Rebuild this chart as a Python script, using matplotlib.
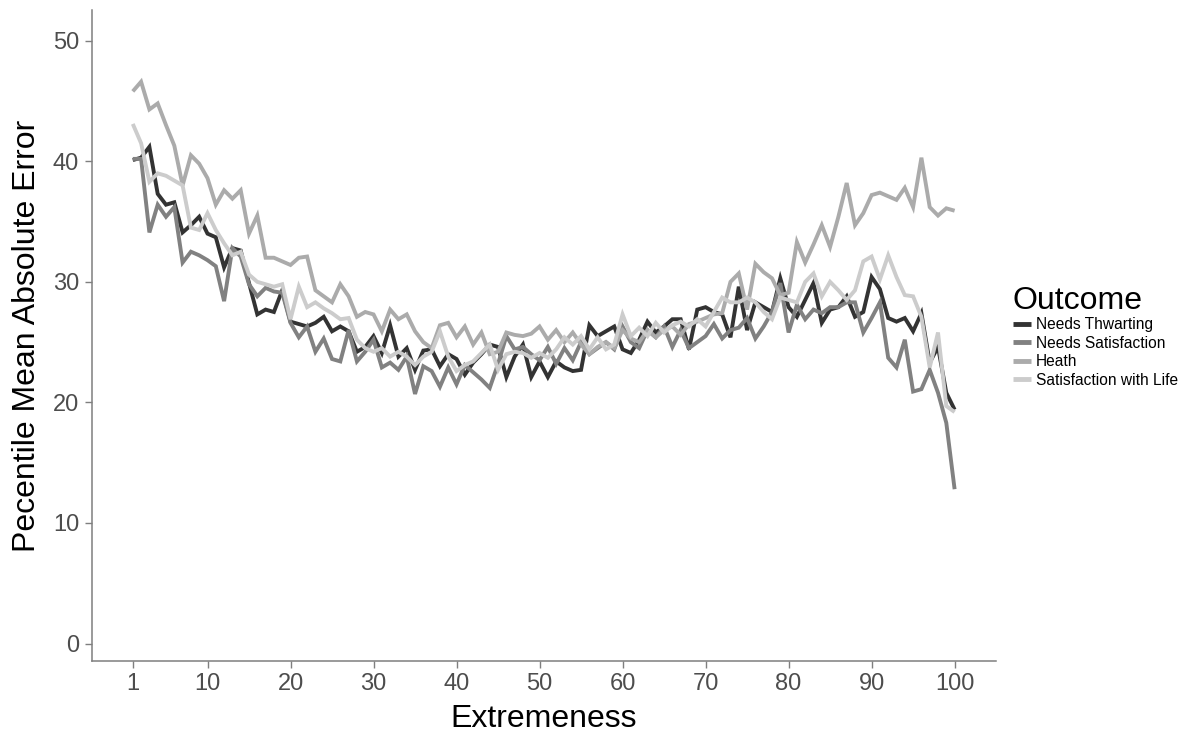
import matplotlib
matplotlib.use("Agg")
import matplotlib.pyplot as plt
import numpy as np

plt.rcParams['font.family'] = ['Liberation Sans', 'DejaVu Sans']

extremeness = list(range(1, 101))

needs_thwarting = [
    40.1, 40.3, 41.2, 37.3, 36.4, 36.6, 34.1, 34.7, 35.4, 34.0,
    33.7, 31.2, 32.8, 32.6, 29.9, 27.3, 27.7, 27.5, 29.3, 26.7,
    26.5, 26.3, 26.6, 27.1, 25.9, 26.3, 25.9, 24.2, 24.6, 25.5,
    24.1, 26.4, 23.8, 24.5, 22.7, 24.3, 24.4, 23.0, 24.0, 23.6,
    22.3, 23.3, 24.0, 24.8, 24.6, 22.1, 23.8, 24.8, 22.1, 23.4,
    22.1, 23.4, 22.9, 22.6, 22.7, 26.4, 25.5, 25.9, 26.3, 24.4,
    24.1, 25.2, 26.7, 25.8, 26.3, 26.9, 26.9, 24.4, 27.7, 27.9,
    27.5, 27.3, 25.4, 29.6, 26.0, 28.3, 27.9, 27.5, 30.3, 27.9,
    27.1, 28.5, 29.9, 26.6, 27.7, 27.9, 28.8, 27.1, 27.5, 30.4,
    29.4, 27.0, 26.7, 27.0, 25.9, 27.4, 23.3, 24.6, 20.8, 19.4,
]

needs_satisfaction = [
    40.2, 40.2, 34.1, 36.4, 35.4, 36.2, 31.6, 32.5, 32.2, 31.8,
    31.3, 28.4, 32.8, 32.1, 29.8, 28.8, 29.5, 29.2, 29.1, 26.6,
    25.4, 26.3, 24.2, 25.3, 23.6, 23.4, 26.0, 23.4, 24.2, 25.2,
    22.9, 23.3, 22.7, 23.8, 20.7, 23.0, 22.6, 21.3, 22.9, 21.5,
    23.1, 22.5, 21.9, 21.2, 23.2, 25.5, 24.4, 24.6, 24.0, 23.5,
    24.6, 23.2, 24.5, 23.5, 25.0, 24.0, 24.5, 25.0, 24.4, 26.3,
    25.0, 24.5, 26.0, 25.4, 26.3, 24.6, 26.0, 24.5, 25.0, 25.5,
    26.5, 25.3, 26.0, 26.2, 27.0, 25.3, 26.3, 27.5, 29.9, 25.8,
    28.1, 26.9, 27.7, 27.4, 27.9, 27.9, 28.3, 28.3, 25.8, 27.0,
    28.3, 23.7, 22.9, 25.2, 20.9, 21.1, 22.7, 20.8, 18.3, 12.8,
]

heath = [
    45.8, 46.6, 44.3, 44.8, 43.0, 41.3, 38.0, 40.5, 39.8, 38.6,
    36.4, 37.6, 36.9, 37.6, 34.0, 35.5, 32.0, 32.0, 31.7, 31.4,
    32.0, 32.1, 29.3, 28.8, 28.3, 29.8, 28.8, 27.1, 27.5, 27.3,
    25.9, 27.7, 26.9, 27.3, 25.9, 25.0, 24.5, 26.4, 26.6, 25.4,
    26.3, 24.8, 25.8, 24.0, 24.2, 25.8, 25.6, 25.5, 25.7, 26.3,
    25.2, 26.0, 25.0, 25.8, 24.8, 24.0, 24.6, 25.0, 24.5, 26.0,
    25.3, 25.0, 26.0, 25.4, 26.0, 26.3, 25.6, 26.5, 26.7, 27.0,
    27.3, 27.4, 30.0, 30.7, 27.7, 31.5, 30.8, 30.3, 28.9, 29.1,
    33.3, 31.6, 33.1, 34.7, 32.9, 35.4, 38.2, 34.7, 35.7, 37.2,
    37.4, 37.1, 36.8, 37.8, 36.2, 40.3, 36.2, 35.5, 36.1, 35.9,
]

satisfaction_with_life = [
    43.1, 41.5, 38.3, 39.0, 38.8, 38.4, 38.0, 34.5, 34.3, 35.7,
    34.3, 33.2, 32.2, 32.5, 30.6, 30.0, 29.8, 29.6, 29.8, 26.9,
    29.6, 27.9, 28.3, 27.8, 27.4, 26.9, 27.0, 25.2, 24.5, 24.2,
    24.5, 23.8, 24.2, 23.8, 23.1, 23.8, 24.2, 25.9, 23.8, 22.6,
    23.1, 23.4, 24.1, 24.8, 22.7, 24.0, 24.2, 24.1, 23.7, 24.1,
    23.7, 24.4, 25.4, 24.8, 25.5, 24.4, 25.4, 24.4, 24.8, 27.3,
    25.5, 26.2, 25.5, 26.6, 25.8, 26.4, 26.7, 26.3, 26.9, 26.3,
    27.5, 28.7, 28.3, 28.3, 28.7, 28.3, 27.5, 26.9, 28.7, 28.5,
    28.3, 30.0, 30.7, 28.8, 30.0, 29.3, 28.5, 29.3, 31.7, 32.1,
    30.2, 32.2, 30.4, 28.9, 28.8, 27.1, 22.9, 25.8, 19.7, 19.2,
]

series_names = ["Needs Thwarting", "Needs Satisfaction", "Heath", "Satisfaction with Life"]
series_values = [needs_thwarting, needs_satisfaction, heath, satisfaction_with_life]
series_colors = ["#333333", "#818181", "#ABABAB", "#CCCCCC"]

x_ticks = [1, 10, 20, 30, 40, 50, 60, 70, 80, 90, 100]
y_ticks = [0, 10, 20, 30, 40, 50]

fig = plt.figure(figsize=(11.84, 7.35), dpi=100)
ax = fig.add_axes([91.7 / 1184, 1 - 661 / 735, (995.7 - 91.7) / 1184, (661 - 10) / 735])

for name, vals, col in zip(series_names, series_values, series_colors):
    ax.plot(extremeness, vals, color=col, linewidth=2.8, label=name,
            solid_joinstyle='miter', solid_capstyle='butt')

ax.set_xlim(-3.95, 104.95)
ax.set_ylim(-1.45, 52.55)
ax.set_xticks(x_ticks)
ax.set_yticks(y_ticks)

for side in ["top", "right"]:
    ax.spines[side].set_visible(False)
for side in ["left", "bottom"]:
    ax.spines[side].set_color("#7f7f7f")
    ax.spines[side].set_linewidth(1.1)

ax.tick_params(axis="both", colors="#7f7f7f", length=5, width=1.0,
               labelsize=17, labelcolor="#4d4d4d", pad=4)

ax.set_xlabel("Extremeness", fontsize=23, color="black", labelpad=6)
ax.set_ylabel("Pecentile Mean Absolute Error", fontsize=23, color="black", labelpad=8)

leg = fig.legend(loc="upper left", bbox_to_anchor=(1013 / 1184, 1 - 286 / 735),
                 frameon=False, fontsize=11.2, title="Outcome", title_fontsize=23,
                 handlelength=1.15, handletextpad=0.3, labelspacing=0.22,
                 borderpad=0, borderaxespad=0)
leg._legend_box.align = "left"
leg._legend_box.sep = 1
for line in leg.get_lines():
    line.set_linewidth(3.5)

fig.savefig("out.png", dpi=100)
